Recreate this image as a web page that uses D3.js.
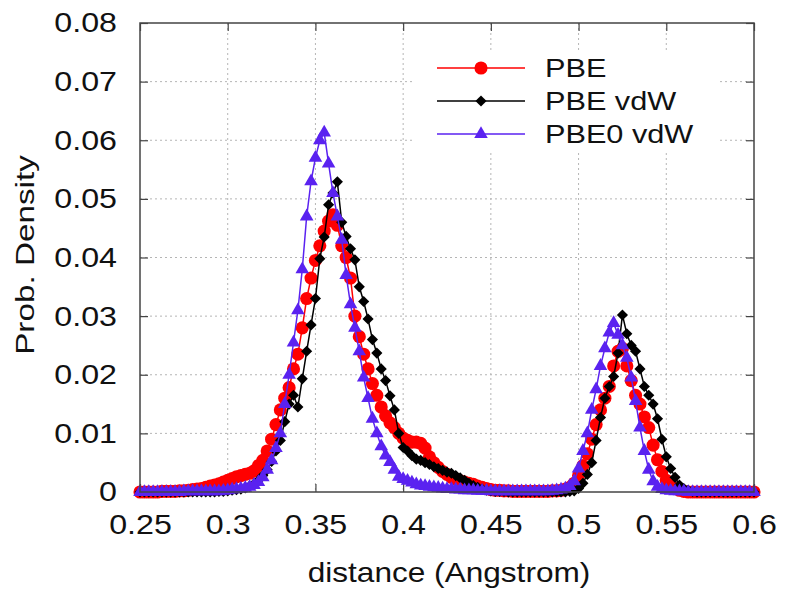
<!DOCTYPE html>
<html>
<head>
<meta charset="utf-8">
<script src="https://cdn.jsdelivr.net/npm/d3@7"></script>
<style>
  html, body { margin: 0; padding: 0; background: #fff; }
  text { font-family: "Liberation Sans", Arial, Helvetica, sans-serif; fill: #111; }
</style>
</head>
<body>
<div id="chart"></div>
<script>
// distance grid (Angstrom), step 0.0025
const distance = [
  0.25, 0.2525, 0.255, 0.2575, 0.26, 0.2625, 0.265, 0.2675, 0.27, 0.2725,
  0.275, 0.2775, 0.28, 0.2825, 0.285, 0.2875, 0.29, 0.2925, 0.295, 0.2975,
  0.30, 0.3025, 0.305, 0.3075, 0.31, 0.3125, 0.315, 0.3175, 0.32, 0.3225,
  0.325, 0.3275, 0.33, 0.3325, 0.335, 0.3375, 0.34, 0.3425, 0.345, 0.3475,
  0.35, 0.3525, 0.355, 0.3575, 0.36, 0.3625, 0.365, 0.3675, 0.37, 0.3725,
  0.375, 0.3775, 0.38, 0.3825, 0.385, 0.3875, 0.39, 0.3925, 0.395, 0.3975,
  0.40, 0.4025, 0.405, 0.4075, 0.41, 0.4125, 0.415, 0.4175, 0.42, 0.4225,
  0.425, 0.4275, 0.43, 0.4325, 0.435, 0.4375, 0.44, 0.4425, 0.445, 0.4475,
  0.45, 0.4525, 0.455, 0.4575, 0.46, 0.4625, 0.465, 0.4675, 0.47, 0.4725,
  0.475, 0.4775, 0.48, 0.4825, 0.485, 0.4875, 0.49, 0.4925, 0.495, 0.4975,
  0.50, 0.5025, 0.505, 0.5075, 0.51, 0.5125, 0.515, 0.5175, 0.52, 0.5225,
  0.525, 0.5275, 0.53, 0.5325, 0.535, 0.5375, 0.54, 0.5425, 0.545, 0.5475,
  0.55, 0.5525, 0.555, 0.5575, 0.56, 0.5625, 0.565, 0.5675, 0.57, 0.5725,
  0.575, 0.5775, 0.58, 0.5825, 0.585, 0.5875, 0.59, 0.5925, 0.595, 0.5975,
  0.60
];

const pbe = [
  0, 0, 0, 0, 0, 0.0001, 0.0001, 0.0001, 0.0001, 0.0002,
  0.0002, 0.0003, 0.0004, 0.0005, 0.0006, 0.0008, 0.0010, 0.0012, 0.0014, 0.0017,
  0.0020, 0.0023, 0.0026, 0.0028, 0.0030, 0.0032, 0.0036, 0.0045, 0.0054, 0.0070,
  0.0090, 0.0115, 0.0140, 0.0160, 0.0178, 0.0210, 0.0235, 0.0280, 0.0330, 0.0365,
  0.0395, 0.0420, 0.0445, 0.0462, 0.0473, 0.0455, 0.0420, 0.0400, 0.0365, 0.0300,
  0.0265, 0.0235, 0.0210, 0.0185, 0.0165, 0.0145, 0.0130, 0.0118, 0.0110, 0.0100,
  0.0092, 0.0088, 0.0085, 0.0085, 0.0083, 0.0075, 0.0060, 0.0050, 0.0042, 0.0035,
  0.0030, 0.0025, 0.0022, 0.0019, 0.0017, 0.0015, 0.0013, 0.0010, 0.0008, 0.0006,
  0.0004, 0.0003, 0.0003, 0.0002, 0.0002, 0.0001, 0.0001, 0.0001, 0.0001, 0.0001,
  0.0001, 0.0001, 0.0001, 0.0001, 0.0002, 0.0002, 0.0003, 0.0005, 0.0008, 0.0015,
  0.0028, 0.0045, 0.0065, 0.0090, 0.0115, 0.0140, 0.0160, 0.0180, 0.0215, 0.0240,
  0.0245, 0.0215, 0.0190, 0.0165, 0.0150, 0.0128, 0.0110, 0.0080, 0.0055, 0.0035,
  0.0020, 0.0012, 0.0006, 0.0003, 0.0001, 0, 0, 0, 0, 0,
  0, 0, 0, 0, 0, 0, 0, 0, 0, 0,
  0
];

const pbeVdw = [
  0, 0, 0, 0, 0, 0, 0, 0, 0, 0,
  0, 0, 0, 0, 0, 0, 0, 0, 0.0001, 0.0001,
  0.0002, 0.0003, 0.0004, 0.0005, 0.0007, 0.0010, 0.0014, 0.0020, 0.0028, 0.0038,
  0.0052, 0.0070, 0.0088, 0.0120, 0.0150, 0.0165, 0.0145, 0.0193, 0.0240, 0.0285,
  0.0330, 0.0398, 0.0435, 0.0490, 0.0510, 0.0529, 0.0460, 0.0436, 0.0415, 0.0396,
  0.0350, 0.0325, 0.0295, 0.0260, 0.0237, 0.0210, 0.0190, 0.0164, 0.0140, 0.0100,
  0.0076, 0.0070, 0.0062, 0.0056, 0.0054, 0.0050, 0.0047, 0.0043, 0.0040, 0.0037,
  0.0034, 0.0032, 0.0028, 0.0024, 0.0020, 0.0015, 0.0011, 0.0008, 0.0005, 0.0003,
  0.0002, 0.0001, 0.0001, 0.0001, 0, 0, 0, 0, 0, 0,
  0, 0, 0, 0, 0, 0, 0, 0, 0.0001, 0.0002,
  0.0006, 0.0015, 0.0030, 0.0050, 0.0088, 0.0127, 0.0160, 0.0180, 0.0197, 0.0237,
  0.0302, 0.0270, 0.0250, 0.0240, 0.0210, 0.0180, 0.0165, 0.0150, 0.0125, 0.0090,
  0.0060, 0.0040, 0.0025, 0.0012, 0.0006, 0.0003, 0.0001, 0, 0, 0,
  0, 0, 0, 0, 0, 0, 0, 0, 0, 0,
  0
];

const pbe0Vdw = [
  0, 0, 0, 0, 0, 0, 0, 0, 0, 0,
  0.0001, 0.0001, 0.0001, 0.0001, 0.0001, 0.0001, 0.0001, 0.0001, 0.0001, 0.0002,
  0.0003, 0.0004, 0.0005, 0.0006, 0.0007, 0.0009, 0.0012, 0.0017, 0.0025, 0.0038,
  0.0054, 0.0075, 0.0100, 0.0150, 0.0200, 0.0255, 0.0310, 0.0380, 0.0470, 0.0530,
  0.0570, 0.0600, 0.0613, 0.0560, 0.0510, 0.0470, 0.0430, 0.0370, 0.0320, 0.0280,
  0.0240, 0.0195, 0.0160, 0.0125, 0.0100, 0.0078, 0.0062, 0.0051, 0.0038, 0.0026,
  0.0022, 0.0019, 0.0016, 0.0013, 0.0011, 0.0010, 0.0009, 0.0008, 0.0007, 0.0006,
  0.0005, 0.0005, 0.0004, 0.0004, 0.0003, 0.0003, 0.0003, 0.0002, 0.0002, 0.0002,
  0.0001, 0.0001, 0.0001, 0.0001, 0.0001, 0.0001, 0.0001, 0.0001, 0.0001, 0.0001,
  0.0001, 0.0001, 0.0001, 0.0001, 0.0002, 0.0003, 0.0004, 0.0006, 0.0010, 0.0018,
  0.0040, 0.0070, 0.0100, 0.0140, 0.0175, 0.0215, 0.0245, 0.0272, 0.0288, 0.0268,
  0.0250, 0.0229, 0.0195, 0.0155, 0.0110, 0.0070, 0.0038, 0.0018, 0.0009, 0.0005,
  0.0003, 0.0002, 0.0001, 0.0001, 0.0001, 0, 0, 0, 0, 0,
  0, 0, 0, 0, 0, 0, 0, 0, 0, 0,
  0
];

const xTicks = [0.25, 0.3, 0.35, 0.4, 0.45, 0.5, 0.55, 0.6];
const xTickLabels = ["0.25", "0.3", "0.35", "0.4", "0.45", "0.5", "0.55", "0.6"];
const yTicks = [0, 0.01, 0.02, 0.03, 0.04, 0.05, 0.06, 0.07, 0.08];
const yTickLabels = ["0", "0.01", "0.02", "0.03", "0.04", "0.05", "0.06", "0.07", "0.08"];

const seriesNames = ["PBE", "PBE vdW", "PBE0 vdW"];
const seriesColors = ["#ff0000", "#000000", "#5a22f0"];
const seriesValues = [pbe, pbeVdw, pbe0Vdw];

const width = 786, height = 590;
const plotLeft = 140, plotRight = 754, plotTop = 23, plotBottom = 492;

const svg = d3.select("#chart").append("svg")
  .attr("width", width)
  .attr("height", height);

const x = d3.scaleLinear().domain([0.25, 0.6]).range([plotLeft, plotRight]);
const y = d3.scaleLinear().domain([0, 0.08]).range([plotBottom, plotTop]);

// grid
const grid = svg.append("g").attr("stroke", "#b5b5b5").attr("stroke-width", 1)
  .attr("stroke-dasharray", "2,3");
grid.selectAll(".gx").data(xTicks.slice(1, -1)).enter().append("line")
  .attr("x1", d => x(d)).attr("x2", d => x(d))
  .attr("y1", plotTop).attr("y2", plotBottom);
grid.selectAll(".gy").data(yTicks.slice(1, -1)).enter().append("line")
  .attr("x1", plotLeft).attr("x2", plotRight)
  .attr("y1", d => y(d)).attr("y2", d => y(d));

// axes, ticks point inward like gnuplot
const fmtX = (d, i) => xTickLabels[i];
const fmtY = (d, i) => yTickLabels[i];
const stretch = "scale(1.15,1)";

const gx = svg.append("g").attr("transform", `translate(0,${plotBottom})`)
  .call(d3.axisBottom(x).tickValues(xTicks).tickFormat(fmtX).tickSizeInner(-8).tickSizeOuter(0).tickPadding(22));
const gy = svg.append("g").attr("transform", `translate(${plotLeft},0)`)
  .call(d3.axisLeft(y).tickValues(yTicks).tickFormat(fmtY).tickSizeInner(-8).tickSizeOuter(0).tickPadding(20));
svg.append("g").attr("transform", `translate(0,${plotTop})`)
  .call(d3.axisTop(x).tickValues(xTicks).tickFormat("").tickSizeInner(-8).tickSizeOuter(0));
svg.append("g").attr("transform", `translate(${plotRight},0)`)
  .call(d3.axisRight(y).tickValues(yTicks).tickFormat("").tickSizeInner(-8).tickSizeOuter(0));

svg.selectAll(".domain").remove();
svg.selectAll(".tick line").attr("stroke", "#444").attr("stroke-width", 1.2);
gx.selectAll("text").attr("font-size", 28).attr("transform", stretch).attr("fill", "#111");
gy.selectAll("text").attr("font-size", 28).attr("transform", stretch).attr("fill", "#111");

// series
const line = d3.line().x((d, i) => x(distance[i])).y(d => y(d));
const symbols = [
  d3.symbol().type(d3.symbolCircle).size(135),
  d3.symbol().type(d3.symbolSquare).size(62),
  d3.symbol().type(d3.symbolTriangle).size(80)
];
const rotations = [0, 45, 0];

seriesValues.forEach((vals, k) => {
  const g = svg.append("g");
  g.append("path")
    .attr("d", line(vals))
    .attr("fill", "none")
    .attr("stroke", seriesColors[k])
    .attr("stroke-width", 1.5);
  g.selectAll("path.m").data(vals).enter().append("path")
    .attr("class", "m")
    .attr("d", symbols[k])
    .attr("fill", seriesColors[k])
    .attr("transform", (d, i) => `translate(${x(distance[i])},${y(d)}) rotate(${rotations[k]})`);
});

// border
svg.append("rect")
  .attr("x", plotLeft).attr("y", plotTop)
  .attr("width", plotRight - plotLeft).attr("height", plotBottom - plotTop)
  .attr("fill", "none").attr("stroke", "#444").attr("stroke-width", 1.5);

// legend
const legend = svg.append("g");
legend.append("rect").attr("x", 413).attr("y", 50).attr("width", 305).attr("height", 102).attr("fill", "#fff");
seriesNames.forEach((name, k) => {
  const ly = 68 + k * 33;
  legend.append("line").attr("x1", 437).attr("x2", 525).attr("y1", ly).attr("y2", ly)
    .attr("stroke", seriesColors[k]).attr("stroke-width", 1.5);
  legend.append("path").attr("d", symbols[k])
    .attr("fill", seriesColors[k])
    .attr("transform", `translate(481,${ly}) rotate(${rotations[k]})`);
  legend.append("text").attr("x", 545 / 1.18).attr("y", ly)
    .attr("transform", "scale(1.18,1)")
    .attr("dy", "0.36em").attr("font-size", 26).text(name);
});

// axis titles
svg.append("text")
  .attr("transform", `translate(449,572) scale(1.17,1)`)
  .attr("text-anchor", "middle").attr("dy", "0.36em")
  .attr("font-size", 27).text("distance (Angstrom)");
svg.append("text")
  .attr("transform", `translate(25,255) rotate(-90) scale(1.28,1)`)
  .attr("text-anchor", "middle").attr("dy", "0.36em")
  .attr("font-size", 26).text("Prob. Density");
</script>
</body>
</html>
